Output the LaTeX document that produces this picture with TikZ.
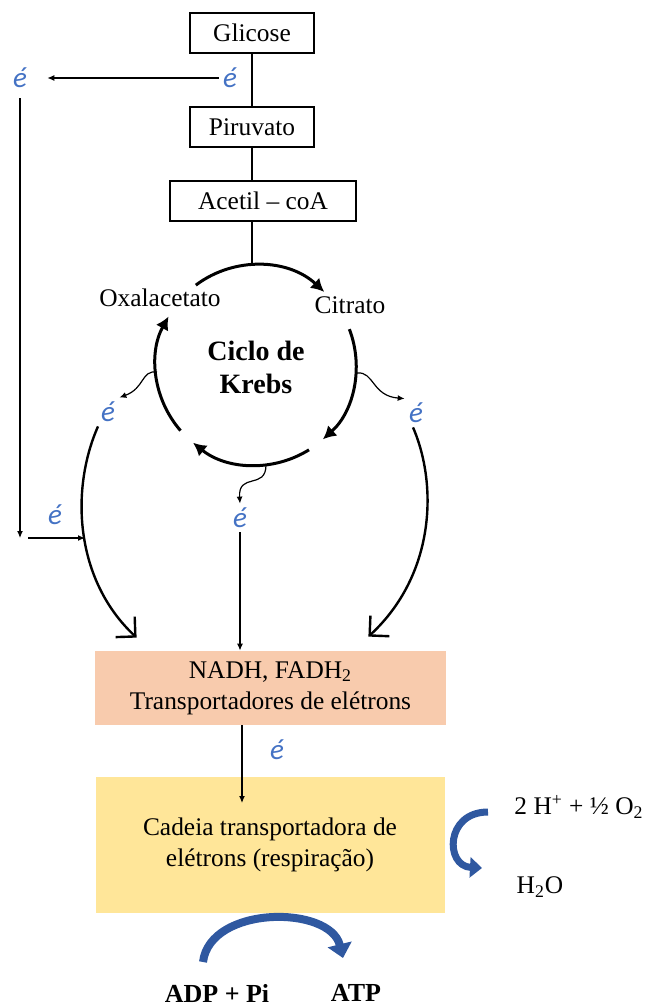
\documentclass[tikz,border=0pt]{standalone}
\usepackage{fontspec}
\setmainfont{Liberation Serif}
\newfontfamily\ecal{Carlito}
\usetikzlibrary{arrows.meta}
\definecolor{eblue}{RGB}{68,114,196}
\definecolor{nadhfill}{RGB}{248,203,173}
\definecolor{cadfill}{RGB}{255,230,153}
\definecolor{arrblue}{RGB}{47,88,160}

\begin{document}
\begin{tikzpicture}[x=0.5pt,y=0.5pt,>={Latex[length=3.5pt,width=3pt]},inner sep=1pt,
  box/.style={draw,line width=0.8pt,minimum height=20pt,inner sep=0pt},
  txt/.style={font=\fontsize{12.7}{15.5}\selectfont,align=center},
  el/.style={text=eblue,font=\ecal\itshape\fontsize{14.5}{14.5}\selectfont,inner sep=2pt},
  cyc/.style={line width=1.5pt,-{Latex[length=6.5pt,width=7pt]}},
  big/.style={line width=1.2pt,-{Straight Barb[length=7pt,width=14pt]}},
  wav/.style={line width=0.6pt,->},
  band/.style={arrblue,line width=4pt,-{Triangle[length=7pt,width=12pt]}}]
\useasboundingbox (0,0) rectangle (652,-1007);
\node[box,txt,minimum width=62pt] (gl) at (252,-33) {Glicose};
\node[box,txt,minimum width=62pt] (pv) at (252,-127) {Piruvato};
\node[box,txt,minimum width=93pt] (ac) at (263,-201) {Acetil – coA};
\node[el] (e0) at (230,-78) {é};
\node[el] (e1) at (20,-78) {é};
\coordinate (lc) at (20,-538);
\coordinate (lh) at (85,-538);
%
\coordinate (kc) at (256,-365);
\coordinate (kt) at (252,-265);
\node[txt] (ox) at (160,-298) {Oxalacetato};
\node[txt] (ci) at (350,-305) {Citrato};
\node[txt,font=\bfseries\fontsize{14}{16.5}\selectfont] (kr) at (256,-367) {Ciclo de\\Krebs};
\coordinate (wl) at (157,-372);
\coordinate (wr) at (357,-373);
\coordinate (wb) at (266,-465);
\node[el] (e2) at (108,-412) {é};
\node[el] (e3) at (416,-413) {é};
\node[el] (e4) at (240,-518) {é};
\node[el] (e5) at (55,-515) {é};
%
\node[txt,fill=nadhfill,minimum width=175.5pt,minimum height=37pt] (nd) at (270.5,-688) {NADH, FADH\textsubscript{2}\\Transportadores de elétrons};
\node[el] (e6) at (277,-750) {é};
\coordinate (ya) at (242,-803);
\node[txt,fill=cadfill,minimum width=174.5pt,minimum height=68pt] (cd) at (270,-845) {Cadeia transportadora de\\elétrons (respiração)};
\node[txt] (hh) at (579,-807) {2 H\textsuperscript{+} + ½ O\textsubscript{2}};
\node[txt] (wa) at (540,-887) {H\textsubscript{2}O};
\coordinate (r1) at (488,-812);
\coordinate (r2) at (482,-868);
\coordinate (b1) at (203,-962);
\coordinate (b2) at (343,-958);
\node[txt,font=\bfseries\fontsize{13}{15}\selectfont] (adp) at (217,-993) {ADP + Pi};
\node[txt,font=\bfseries\fontsize{13}{15}\selectfont] (atp) at (356,-993) {ATP};
%
\draw[line width=0.7pt] (gl) -- (pv) (pv) -- (pv |- ac.north) (pv |- ac.south) -- (kt);
\draw[->,line width=0.6pt,shorten >=8pt] (e0) -- (e1);
\draw[->,line width=0.6pt,shorten <=3pt] (e1) -- (lc);
\draw[->,line width=0.6pt,shorten <=4pt] (lc) -- (lh);
\draw[cyc] (kc) ++(127:100) arc[start angle=127,end angle=47,radius=100];
\draw[cyc] (kc) ++(21:100) arc[start angle=21,end angle=-48,radius=100];
\draw[cyc] (kc) ++(-58:100) arc[start angle=-58,end angle=-129,radius=100];
\draw[cyc] (kc) ++(221:100) arc[start angle=221,end angle=151,radius=100];
\draw[wav] (wl) .. controls (141,-370) and (145,-388) .. (e2.north east);
\draw[wav] (wr) .. controls (374,-371) and (372,-396) .. (e3.north west);
\draw[wav] (wb) .. controls (266,-490) and (238,-472) .. (e4.north);
\draw[big] ([xshift=-5pt]e2.south) .. controls (70,-490) and (75,-580) .. ([xshift=21pt,yshift=6.5pt]nd.north west);
\draw[big] ([xshift=-1.5pt]e3.south) .. controls (438,-485) and (435,-575) .. ([xshift=-39pt,yshift=7pt]nd.north east);
\draw[->,line width=0.6pt] (e4) -- (e4 |- nd.north);
\draw[->,line width=0.6pt] (nd.south -| ya) -- (ya);
\draw[band,line width=3.5pt,-{Triangle[length=6pt,width=10pt]}] (r1) .. controls (445,-812) and (445,-866) .. (r2);
\draw[band] (b1) .. controls (210,-905) and (330,-905) .. (b2);
\end{tikzpicture}
\end{document}
